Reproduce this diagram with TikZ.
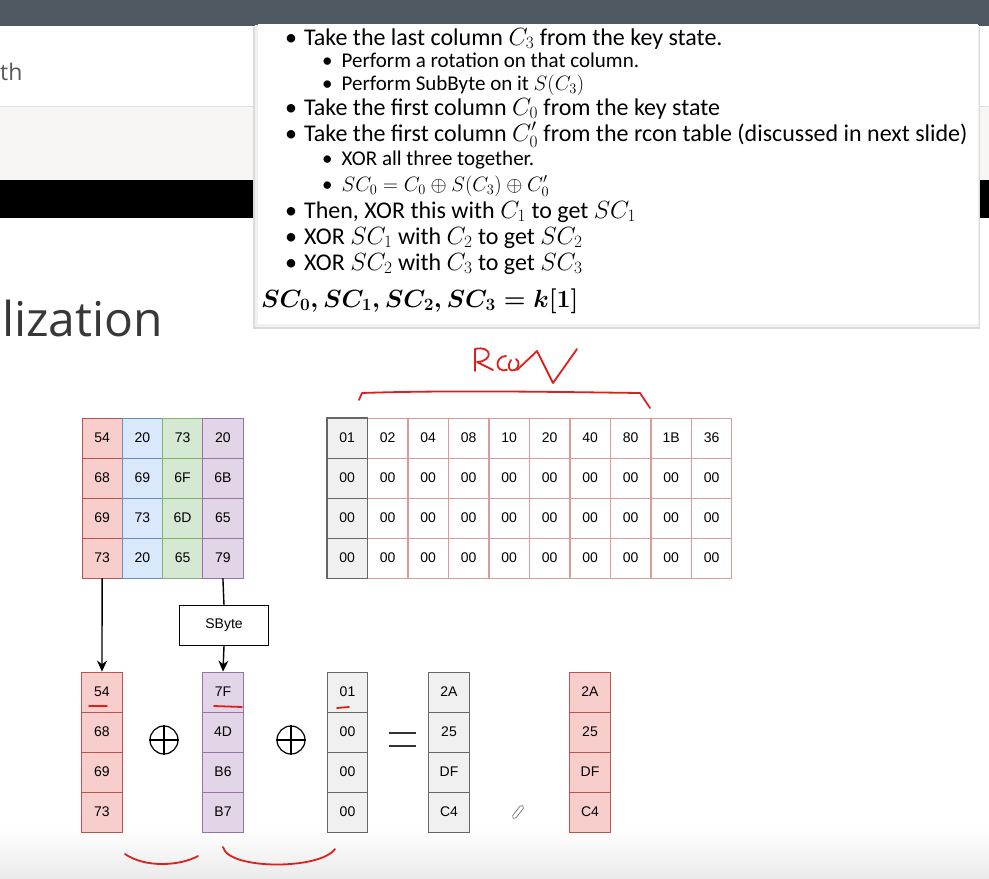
\documentclass[tikz,border=0pt]{standalone}
\usepackage{fontspec}
\usepackage{graphicx}
\usetikzlibrary{arrows.meta}
\newfontfamily\slidefont{Carlito}
\newfontfamily\cellfont{Liberation Sans}
\newfontfamily\pagefont{Open Sans}
\definecolor{barc}{RGB}{78,89,97}
\definecolor{bandc}{RGB}{247,246,245}
\definecolor{redf}{HTML}{F8CECC}
\definecolor{redd}{HTML}{B85450}
\definecolor{bluef}{HTML}{DAE8FC}
\definecolor{blued}{HTML}{6C8EBF}
\definecolor{greenf}{HTML}{D5E8D4}
\definecolor{greend}{HTML}{82B366}
\definecolor{purplef}{HTML}{E1D5E7}
\definecolor{purpled}{HTML}{9673A6}
\definecolor{grayf}{HTML}{F0F0F0}
\definecolor{grayd}{HTML}{666666}
\definecolor{rconline}{HTML}{DC9A98}
\definecolor{ink}{RGB}{222,32,28}
\tikzset{
  cell/.style={draw, minimum width=40.3pt, minimum height=40pt, inner sep=0pt,
    line width=0.8pt, font=\cellfont\fontsize{14}{16}\selectfont},
  arr/.style={-{Stealth[length=11pt,width=10pt]}, line width=1.4pt},
  pen/.style={ink, line width=1.8pt, line cap=round, line join=round},
  popline/.style={anchor=base west, inner sep=0pt, text height=17pt, text depth=4pt,
    font=\slidefont\fontsize{24}{26}\selectfont},
  popsub/.style={anchor=base west, inner sep=0pt, text height=15pt, text depth=4pt,
    font=\slidefont\fontsize{21}{23}\selectfont},
  popkey/.style={anchor=base west, inner sep=0pt, font=\fontsize{26}{28}\selectfont\mathversion{bold}}
}
\begin{document}
\begin{tikzpicture}[x=1pt, y=-1pt]
    \useasboundingbox (0,0) rectangle (989,879);
    % page behind the popup
    \fill[white] (0,0) rectangle (989,879);
    \fill[barc] (0,0) rectangle (989,26);
    \fill[bandc] (0,107) rectangle (989,180);
    \draw[black!12] (0,106) -- (989,106);
    \fill[black] (0,180) rectangle (989,218);
    \shade[top color=white, bottom color=black!8] (0,828) rectangle (989,879);
    \node[anchor=base west, inner sep=0pt, text=black!65,
      font=\pagefont\fontsize{23}{26}\selectfont] (pagehead) at (0,80) {th};
    \node[anchor=base west, inner sep=0pt, text=black!78,
      font=\pagefont\fontsize{48}{54}\selectfont] (pagetitle) at (2,336) {lization};

    % popup with the steps
    \fill[black!14] (253,27) rectangle (980,329);
    \fill[black!6] (255,25) rectangle (979,327);
    \fill[white] (258,24) rectangle (978,324);
    \node[popline] (s1) at (285,45) {\textbullet\hspace{7pt}Take the last column $C_3$ from the key state.};
    \node[popsub] (s2) at (322,67) {\textbullet\hspace{9pt}Perform a rotation on that column.};
    \node[popsub] (s3) at (322,90) {\textbullet\hspace{9pt}Perform SubByte on it $S(C_3)$};
    \node[popline] (s4) at (285,115) {\textbullet\hspace{7pt}Take the first column $C_0$ from the key state};
    \node[popline] (s5) at (285,141) {\textbullet\hspace{7pt}Take the first column $C_0'$ from the rcon table (discussed in next slide)};
    \node[popsub] (s6) at (322,165) {\textbullet\hspace{9pt}XOR all three together.};
    \node[popsub] (s7) at (322,191) {\textbullet\hspace{9pt}$SC_0 = C_0 \oplus S(C_3) \oplus C_0'$};
    \node[popline] (s8) at (285,218) {\textbullet\hspace{7pt}Then, XOR this with $C_1$ to get $SC_1$};
    \node[popline] (s9) at (285,244) {\textbullet\hspace{7pt}XOR $SC_1$ with $C_2$ to get $SC_2$};
    \node[popline] (s10) at (285,270) {\textbullet\hspace{7pt}XOR $SC_2$ with $C_3$ to get $SC_3$};
    \node[popkey] (s11) at (261,307) {$SC_0, SC_1, SC_2, SC_3 = k[1]$};

    % key state
    \foreach \r/\va/\vb/\vc/\vd in {1/54/20/73/20, 2/68/69/6F/6B, 3/69/73/6D/65, 4/73/20/65/79} {
        \node[cell, fill=redf, draw=redd] (k-\r-1) at (102.1,398+40*\r) {\va};
        \node[cell, fill=bluef, draw=blued] (k-\r-2) at (142.4,398+40*\r) {\vb};
        \node[cell, fill=greenf, draw=greend] (k-\r-3) at (182.6,398+40*\r) {\vc};
        \node[cell, fill=purplef, draw=purpled] (k-\r-4) at (222.9,398+40*\r) {\vd};
    }

    % rcon table
    \node[cell, fill=grayf, draw=grayd] (rc-1-1) at (347.2,438) {01};
    \foreach \r in {2,3,4}
        \node[cell, fill=grayf, draw=grayd] (rc-\r-1) at (347.2,398+40*\r) {00};
    \foreach \v [count=\i from 2] in {02,04,08,10,20,40,80,1B,36} {
        \node[cell, fill=white, draw=rconline] (rc-1-\i) at (347.2+40.5*\i-40.5,438) {\v};
        \foreach \r in {2,3,4}
            \node[cell, fill=white, draw=rconline] (rc-\r-\i) at (347.2+40.5*\i-40.5,398+40*\r) {00};
    }
    \draw[grayd, line width=0.8pt] (rc-1-1.north west) rectangle (rc-4-1.south east);

    % columns of the first word
    \foreach \n/\xx/\fc/\dc/\va/\vb/\vc/\vd in {a/102/redf/redd/54/68/69/73,
        b/223/purplef/purpled/7F/4D/B6/B7, c/347.5/grayf/grayd/01/00/00/00,
        d/449/grayf/grayd/2A/25/DF/C4, e/590/redf/redd/2A/25/DF/C4} {
        \node[cell, fill=\fc, draw=\dc] (\n-1) at (\xx,692) {\va};
        \node[cell, fill=\fc, draw=\dc] (\n-2) at (\xx,732) {\vb};
        \node[cell, fill=\fc, draw=\dc] (\n-3) at (\xx,772) {\vc};
        \node[cell, fill=\fc, draw=\dc] (\n-4) at (\xx,812) {\vd};
    }

    % SubByte step
    \node[draw, line width=1.2pt, minimum width=89pt, minimum height=40pt,
      font=\cellfont\fontsize{14}{16}\selectfont] (sbyte) at (224,625.5) {SByte};
    \draw[arr] (k-4-1.south) -- (a-1.north);
    \draw[line width=1.4pt] (k-4-4.south) -- (sbyte.north);
    \draw[arr] (sbyte.south) -- (b-1.north);

    % xor and equals signs
    \node[draw, circle, line width=1.2pt, minimum size=28pt, inner sep=0pt] (xor1) at (164,740) {};
    \node[draw, circle, line width=1.2pt, minimum size=28pt, inner sep=0pt] (xor2) at (291,740) {};
    \draw[line width=1.2pt] (xor1.north) -- (xor1.south) (xor1.west) -- (xor1.east);
    \draw[line width=1.2pt] (xor2.north) -- (xor2.south) (xor2.west) -- (xor2.east);
    \draw[black!80, line width=2pt] (389,733) -- (416,733) (389,746) -- (416,746);

    % pencil cursor
    \draw[black!55, line width=0.7pt, rotate around={52:(518,812)}]
      (512,810) -- (524,810) -- (526,812) -- (524,814) -- (512,814) -- (510,812) -- cycle;

    % handwritten notes
    \draw[pen] (475,371) -- (475,349) .. controls (492,345) and (494,361) .. (477,362) -- (493,370);
    \draw[pen] (506,356) .. controls (495,356) and (494,373) .. (507,370);
    \draw[pen] (511,360) .. controls (506,368) and (510,372) .. (515,370) .. controls (519,368) and (520,361) .. (516,359);
    \draw[pen] (517,370) -- (537,351) -- (553,383) -- (577,349);
    \draw[pen] (359,400) -- (362,393) .. controls (450,390) and (560,392) .. (640,393) -- (650,408);
    \draw[pen] (89,706) -- (107,706);
    \draw[pen] (214,706) -- (242,707);
    \draw[pen] (337,708) -- (349,707);
    \draw[pen] (125,854) .. controls (145,868) and (180,866) .. (198,856);
    \draw[pen] (223,847) .. controls (228,870) and (320,870) .. (335,849);
\end{tikzpicture}
\end{document}
